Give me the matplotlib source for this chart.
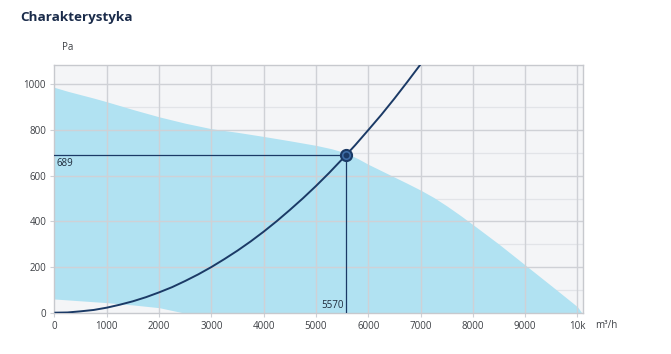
import matplotlib
matplotlib.use("Agg")
import matplotlib.pyplot as plt
import numpy as np

plt.rcParams['font.family'] = ['Open Sans', 'DejaVu Sans']

# Upper envelope of the fan working area (m3/h, Pa)
upper_x = [0, 250, 500, 750, 1000, 1500, 2000, 2500, 3000, 3500, 4000, 4500, 5000, 5300, 5570, 5800, 6000, 6250, 6500, 6750, 7000, 7250, 7500, 7750, 8000, 8500, 9000, 9500, 10000, 10080]
upper_y = [987, 970, 955, 940, 924, 890, 858, 830, 806, 790, 772, 753, 733, 718, 700, 675, 650, 622, 594, 566, 537, 505, 468, 428, 386, 300, 209, 118, 26, 0]
# Lower envelope
lower_x = [0, 500, 1000, 1500, 2000, 2450]
lower_y = [60, 52, 44, 34, 22, 0]
# System (installation) curve
sys_x = [0, 250, 500, 750, 1000, 1250, 1500, 1750, 2000, 2250, 2500, 2750, 3000, 3250, 3500, 3750, 4000,
         4250, 4500, 4750, 5000, 5250, 5570, 5750, 6000, 6250, 6500, 6750, 7000]
sys_y = [0, 1, 6, 12, 22, 35, 50, 68, 89, 112, 139, 168, 200, 235, 272, 312, 355, 401, 450, 501, 555, 612, 689,
         734, 800, 867, 938, 1012, 1088]
# Operating point
op_x = 5570
op_y = 689

x_ticks = [0, 1000, 2000, 3000, 4000, 5000, 6000, 7000, 8000, 9000, 10000]
x_tick_labels = ['0', '1000', '2000', '3000', '4000', '5000', '6000', '7000', '8000', '9000', '10k']
y_ticks = [0, 200, 400, 600, 800, 1000]
y_minor = [100, 300, 500, 700, 900]

navy = '#1b3a66'
fill_c = '#b1e2f2'
grid_major = '#cfd1d6'
grid_minor = '#e2e4e8'
txt = '#3c3f44'

fig = plt.figure(figsize=(6.71, 3.54), dpi=100)
ax = fig.add_axes([0.0812, 0.1167, 0.7872, 0.6997])
ax.set_facecolor('#f4f5f7')

ax.set_xlim(0, 10100)
ax.set_ylim(0, 1085)

# fill between upper and lower envelopes
xx = np.union1d(np.array(upper_x, dtype=float), np.array(lower_x, dtype=float))
ax.fill_between(xx, np.interp(xx, lower_x, lower_y, right=0), np.interp(xx, upper_x, upper_y),
                color=fill_c, lw=0, zorder=1)

# grid
for v in y_minor:
    ax.axhline(v, color=grid_minor, lw=0.9, zorder=0.5)
for v in y_ticks[1:]:
    ax.axhline(v, color=grid_major, lw=1.0, zorder=2)
for v in x_ticks[1:]:
    ax.axvline(v, color=grid_major, lw=1.0, zorder=2)

# system curve
ax.plot(sys_x, sys_y, color=navy, lw=1.4, zorder=4, solid_capstyle='butt')

# operating point lines
ax.plot([0, op_x], [op_y, op_y], color=navy, lw=0.9, zorder=3)
ax.plot([op_x, op_x], [0, op_y], color=navy, lw=0.9, zorder=3)
ax.plot([op_x], [op_y], marker='o', ms=8, mfc='#3f6ea8', mec=navy, mew=1.5, zorder=5)
ax.plot([op_x], [op_y], marker='o', ms=3.2, mfc=navy, mec=navy, zorder=6)

ax.text(40, op_y - 10, str(op_y), ha='left', va='top', fontsize=7, color='#1e2a3a', zorder=6)
ax.text(op_x - 30, 8, str(op_x), ha='right', va='bottom', fontsize=7, color='#1e2a3a', zorder=6)

ax.set_xticks(x_ticks)
ax.set_xticklabels(x_tick_labels)
ax.set_yticks(y_ticks)
ax.tick_params(axis='both', labelsize=7, colors=grid_major, labelcolor=txt, length=3, width=0.8, pad=3)

for s in ax.spines.values():
    s.set_color('#c7c9ce')
    s.set_linewidth(1.0)

fig.text(62 / 671, 1 - 48 / 354, 'Pa', ha='left', va='center', fontsize=7, color=txt)
fig.text(595 / 671, 1 - 326 / 354, 'm³/h', ha='left', va='center', fontsize=7, color=txt)
fig.text(20 / 671, 1 - 17 / 354, 'Charakterystyka', ha='left', va='center', fontsize=9.7,
         fontweight='bold', color='#1a2b4a')

fig.savefig('out.png', dpi=100, facecolor='white')
